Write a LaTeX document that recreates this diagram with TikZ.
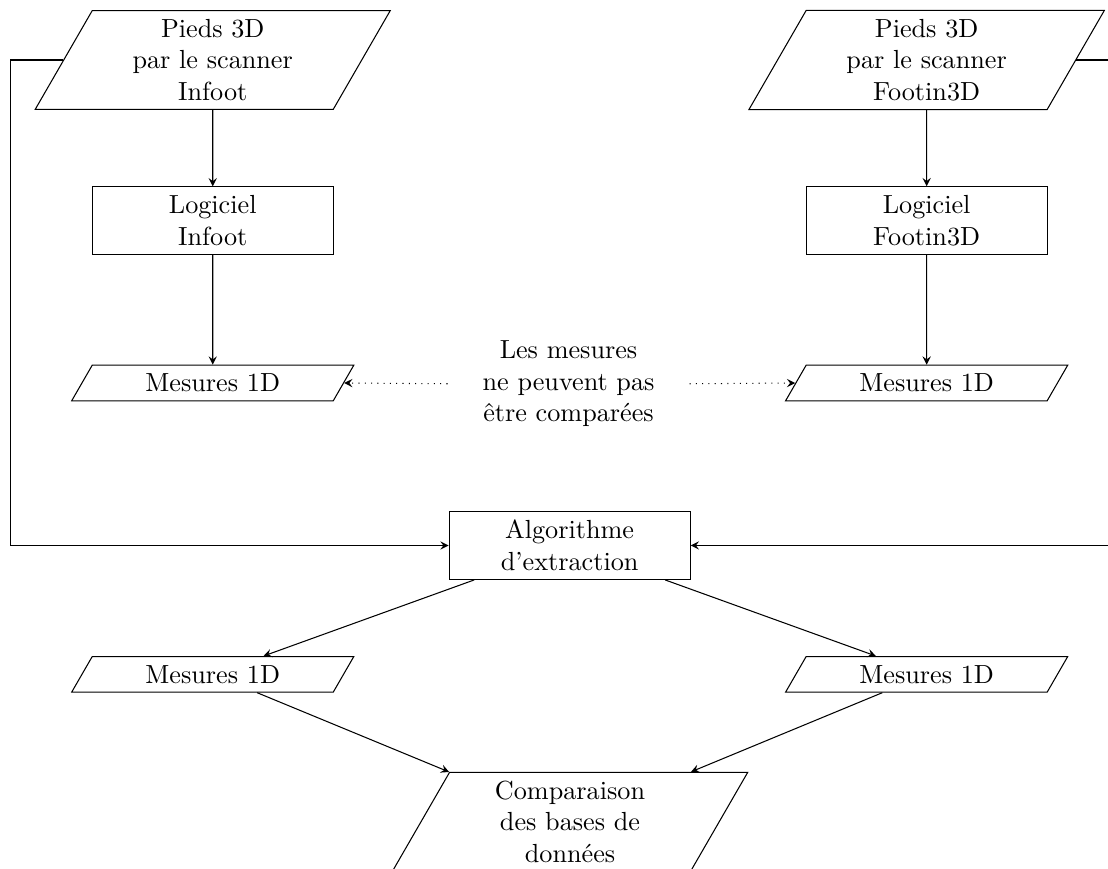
\documentclass[tikz,border=0pt]{standalone}
\usepackage{tikz}
\usetikzlibrary{
  shapes.geometric,
  arrows,
  positioning
}

\tikzset{
  donnees/.style={trapezium, trapezium left angle=60, trapezium right angle=120,
    draw, text width=3cm, align=center},
  traitement/.style={rectangle, draw, text width=3cm, align=center},
  remarque/.style={text width=3cm, align=center}
}

\begin{document}
\begin{tikzpicture}[>=stealth]
  \useasboundingbox (0,0) rectangle (14.87,-11.65);

  % left column: scanner Infoot
  \node[donnees] (scanInfoot) at (2.855,-0.805) {Pieds 3D\\par le scanner\\Infoot};
  \node[traitement] (logInfoot) at (2.855,-2.96) {Logiciel\\Infoot};
  \node[donnees] (mesInfoot) at (2.855,-5.14) {Mesures 1D};

  % right column: scanner Footin3D
  \node[donnees] (scanFootin) at (12.436,-0.805) {Pieds 3D\\par le scanner\\Footin3D};
  \node[traitement] (logFootin) at (12.436,-2.96) {Logiciel\\Footin3D};
  \node[donnees] (mesFootin) at (12.436,-5.14) {Mesures 1D};

  % middle
  \node[remarque] (pasComp) at (7.63,-5.15) {Les mesures\\ne peuvent pas\\être comparées};
  \node[traitement] (algo) at (7.645,-7.32) {Algorithme\\d'extraction};
  \node[donnees] (resInfoot) at (2.855,-9.05) {Mesures 1D};
  \node[donnees] (resFootin) at (12.436,-9.05) {Mesures 1D};
  \node[donnees] (comp) at (7.65,-11.03) {Comparaison\\des bases de\\données};

  % connectors
  \draw[->] (scanInfoot) -- (logInfoot);
  \draw[->] (logInfoot) -- (mesInfoot);
  \draw[->] (scanFootin) -- (logFootin);
  \draw[->] (logFootin) -- (mesFootin);

  \draw[->, dotted] (pasComp.west) -- (mesInfoot.east);
  \draw[->, dotted] (pasComp.east) -- (mesFootin.west);

  \draw[->] (scanInfoot.west) -- ++(-0.7,0) |- (algo.west);
  \draw[->] (scanFootin.east) -- ++(0.7,0) |- (algo.east);

  \draw[->] (algo) -- (resInfoot);
  \draw[->] (algo) -- (resFootin);
  \draw[->] (resInfoot) -- (comp);
  \draw[->] (resFootin) -- (comp);
\end{tikzpicture}
\end{document}
